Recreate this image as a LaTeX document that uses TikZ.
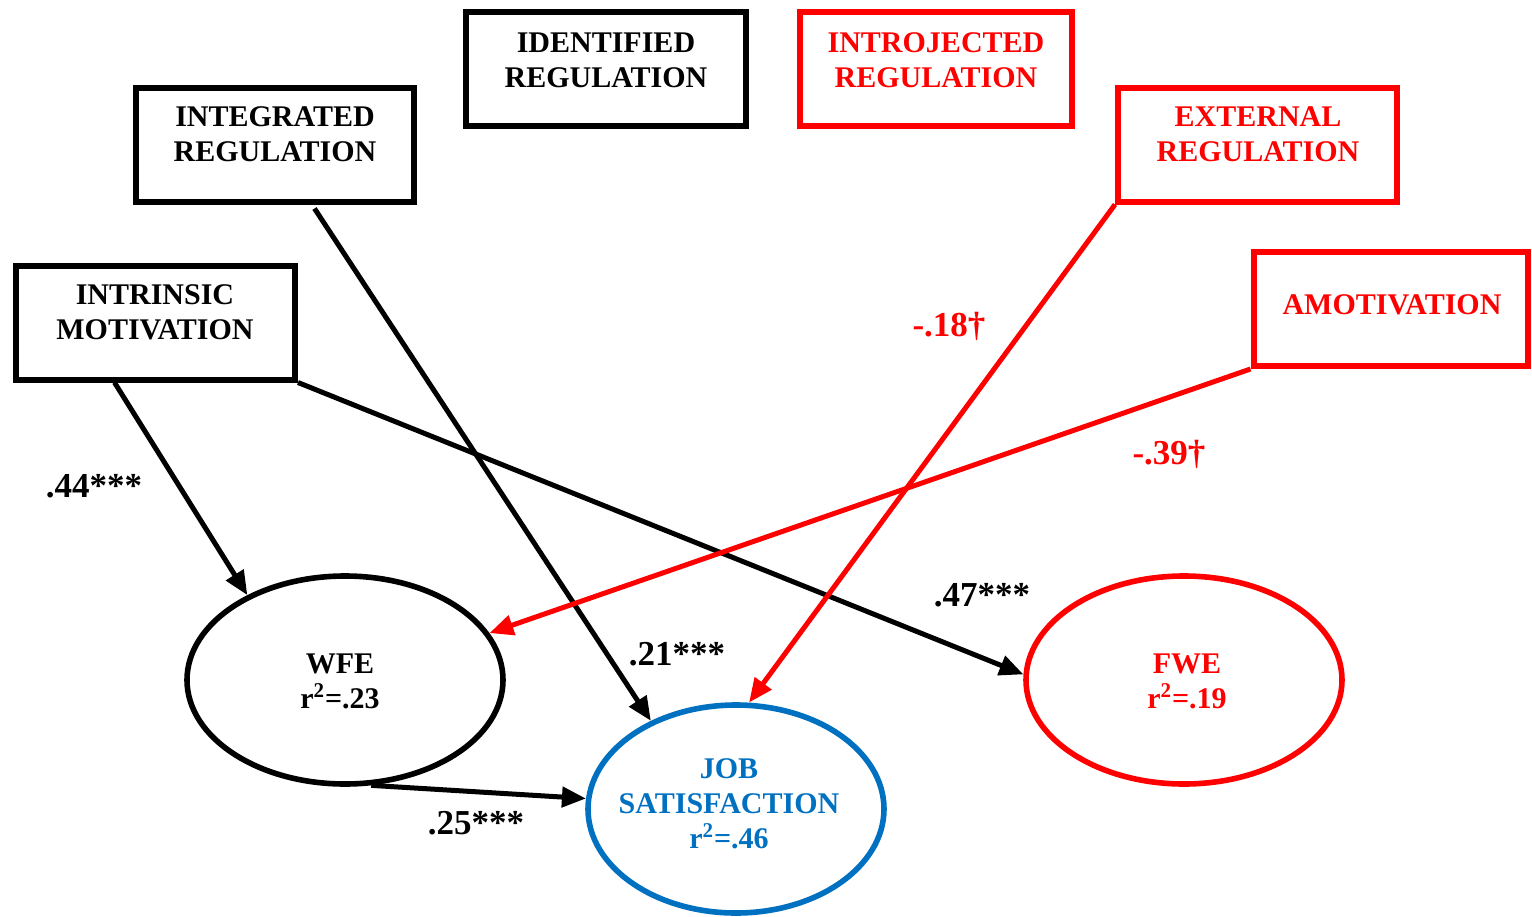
\documentclass[tikz,border=0pt]{standalone}
\usepackage{fontspec}
\setmainfont{Liberation Serif}
\usetikzlibrary{shapes.geometric,arrows.meta}
\definecolor{jsblue}{RGB}{0,112,192}
\definecolor{pred}{RGB}{255,0,0}
\begin{document}
\begin{tikzpicture}[x=0.5pt,y=-0.5pt,
  txt/.style={font=\fontsize{15}{17.5}\selectfont\bfseries, inner sep=0pt, align=center},
  lbl/.style={font=\fontsize{17.5}{20}\selectfont\bfseries, inner sep=0pt, anchor=base},
  box/.style={draw, line width=3pt, inner sep=0pt, minimum height=57pt},
  ell/.style={draw, ellipse, line width=2.8pt, inner sep=0pt},
  arr/.style={line width=2.5pt, -{Triangle[length=12pt,width=10pt]}}]
\useasboundingbox (0,0) rectangle (1532,916);

% boxes
\node[box, minimum width=139pt] (integ) at (275,144.5) {};
\node[box, minimum width=140pt] (ident) at (606,68.5) {};
\node[box, minimum width=139.5pt] (intrin) at (155.5,322.5) {};
\node[box, pred, minimum width=136pt] (introj) at (936,68.5) {};
\node[box, pred, minimum width=139.5pt] (ext) at (1257.5,144.5) {};
\node[box, pred, minimum width=137pt] (amot) at (1390.5,309) {};

\node[txt, anchor=north] (tinteg) at (275,106) {INTEGRATED\\REGULATION};
\node[txt, anchor=north] (tident) at (606,32) {IDENTIFIED\\REGULATION};
\node[txt, anchor=north] (tintrin) at (155,284) {INTRINSIC\\MOTIVATION};
\node[txt, anchor=north, pred] (tintroj) at (936,32) {INTROJECTED\\REGULATION};
\node[txt, anchor=north, pred] (text) at (1258,106) {EXTERNAL\\REGULATION};
\node[txt, anchor=north, pred] (tamot) at (1392,294) {AMOTIVATION};

% ellipses
\node[ell, minimum width=158pt, minimum height=104pt] (wfe) at (345,680) {};
\node[ell, jsblue, minimum width=148pt, minimum height=104pt] (job) at (736,809) {};
\node[ell, pred, minimum width=158pt, minimum height=104pt] (fwe) at (1184,680) {};

\node[txt, anchor=north] (twfe) at (340,653) {WFE\\r\textsuperscript{2}=.23};
\node[txt, anchor=north, jsblue] (tjob) at (729,758) {JOB\\SATISFACTION\\r\textsuperscript{2}=.46};
\node[txt, anchor=north, pred] (tfwe) at (1187,653) {FWE\\r\textsuperscript{2}=.19};

% arrows
\draw[arr] ([xshift=50.75pt]intrin.south west) -- (wfe.139);
\draw[arr] (intrin.south east) -- (fwe.178);
\draw[arr] ([xshift=90.75pt,yshift=-2pt]integ.south west) -- (job.134);
\draw[arr] (wfe.-76) -- (job.176);
\draw[arr, pred] (ext.south west) -- (job.83);
\draw[arr, pred] (amot.south west) -- (wfe.18);

% labels
\node[lbl] (l44) at (94,497) {.44***};
\node[lbl] (l47) at (982,606) {.47***};
\node[lbl] (l21) at (677,665) {.21***};
\node[lbl] (l25) at (476,834) {.25***};
\node[lbl, pred] (l18) at (949,336) {-.18†};
\node[lbl, pred] (l39) at (1169,464) {-.39†};
\end{tikzpicture}
\end{document}
